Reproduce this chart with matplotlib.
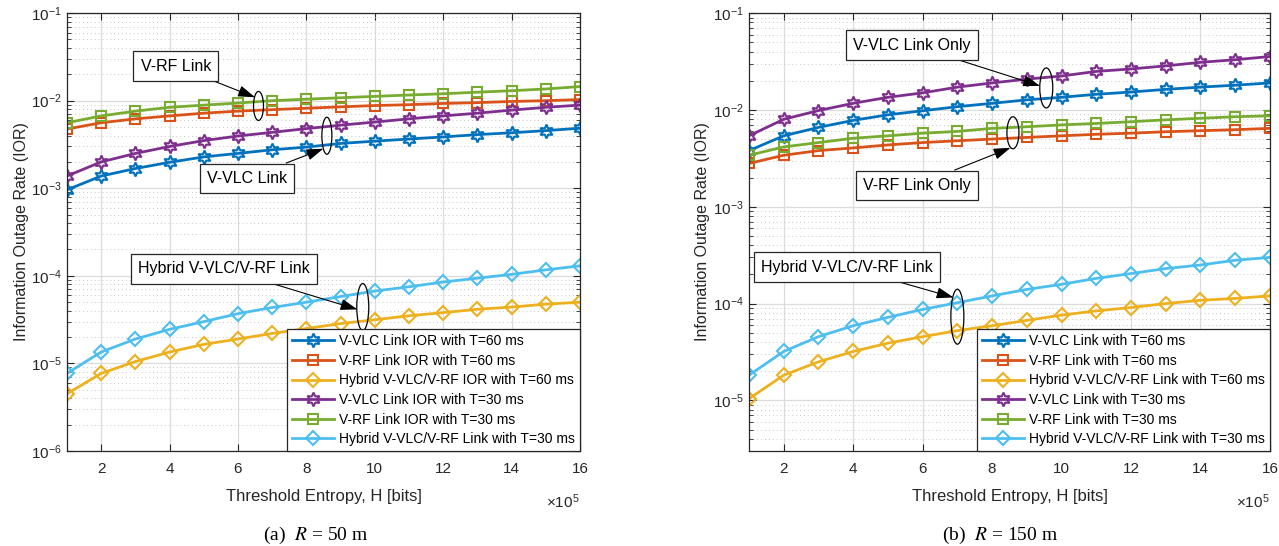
import numpy as np
import matplotlib
matplotlib.use("Agg")
import matplotlib.pyplot as plt
from matplotlib.patches import Ellipse
from matplotlib.transforms import ScaledTranslation

# DATA  (H in units of 1e5 bits)
entropy = [1, 2, 3, 4, 5, 6, 7, 8, 9, 10, 11, 12, 13, 14, 15, 16]

# R = 50 m
vlc60_50 = [9.6e-4, 1.38e-3, 1.68e-3, 1.98e-3, 2.28e-3, 2.5e-3, 2.75e-3, 2.95e-3,
            3.25e-3, 3.45e-3, 3.65e-3, 3.85e-3, 4.1e-3, 4.3e-3, 4.55e-3, 4.85e-3]
rf60_50  = [4.75e-3, 5.6e-3, 6.2e-3, 6.7e-3, 7.2e-3, 7.6e-3, 7.9e-3, 8.2e-3,
            8.5e-3, 8.8e-3, 9.0e-3, 9.3e-3, 9.5e-3, 9.8e-3, 1.0e-2, 1.03e-2]
hyb60_50 = [4.5e-6, 7.7e-6, 1.05e-5, 1.35e-5, 1.65e-5, 1.9e-5, 2.2e-5, 2.5e-5,
            2.85e-5, 3.15e-5, 3.5e-5, 3.8e-5, 4.15e-5, 4.4e-5, 4.75e-5, 5.0e-5]
vlc30_50 = [1.38e-3, 2.0e-3, 2.5e-3, 3.0e-3, 3.5e-3, 3.95e-3, 4.35e-3, 4.8e-3,
            5.25e-3, 5.7e-3, 6.2e-3, 6.7e-3, 7.2e-3, 7.8e-3, 8.4e-3, 8.9e-3]
rf30_50  = [5.6e-3, 6.7e-3, 7.6e-3, 8.4e-3, 8.9e-3, 9.4e-3, 1.0e-2, 1.04e-2,
            1.08e-2, 1.12e-2, 1.16e-2, 1.2e-2, 1.25e-2, 1.3e-2, 1.36e-2, 1.45e-2]
hyb30_50 = [7.7e-6, 1.35e-5, 1.9e-5, 2.45e-5, 3.0e-5, 3.7e-5, 4.35e-5, 5.0e-5,
            5.8e-5, 6.7e-5, 7.5e-5, 8.5e-5, 9.4e-5, 1.04e-4, 1.17e-4, 1.3e-4]

# R = 150 m
vlc60_150 = [3.8e-3, 5.4e-3, 6.6e-3, 7.8e-3, 8.9e-3, 9.8e-3, 1.08e-2, 1.17e-2,
             1.27e-2, 1.35e-2, 1.45e-2, 1.53e-2, 1.63e-2, 1.72e-2, 1.8e-2, 1.9e-2]
rf60_150  = [2.8e-3, 3.4e-3, 3.8e-3, 4.05e-3, 4.35e-3, 4.6e-3, 4.8e-3, 5.0e-3,
             5.2e-3, 5.4e-3, 5.6e-3, 5.75e-3, 5.95e-3, 6.1e-3, 6.25e-3, 6.45e-3]
hyb60_150 = [1.04e-5, 1.82e-5, 2.5e-5, 3.2e-5, 3.9e-5, 4.55e-5, 5.25e-5, 5.9e-5,
             6.7e-5, 7.6e-5, 8.4e-5, 9.1e-5, 1.0e-4, 1.08e-4, 1.13e-4, 1.2e-4]
vlc30_150 = [5.4e-3, 8.0e-3, 9.85e-3, 1.17e-2, 1.35e-2, 1.5e-2, 1.72e-2, 1.9e-2,
             2.08e-2, 2.24e-2, 2.5e-2, 2.65e-2, 2.85e-2, 3.1e-2, 3.3e-2, 3.56e-2]
rf30_150  = [3.4e-3, 4.15e-3, 4.6e-3, 5.1e-3, 5.4e-3, 5.75e-3, 6.0e-3, 6.45e-3,
             6.7e-3, 7.0e-3, 7.25e-3, 7.55e-3, 7.9e-3, 8.2e-3, 8.5e-3, 8.7e-3]
hyb30_150 = [1.82e-5, 3.2e-5, 4.55e-5, 5.9e-5, 7.2e-5, 8.7e-5, 1.02e-4, 1.2e-4,
             1.4e-4, 1.58e-4, 1.82e-4, 2.04e-4, 2.3e-4, 2.5e-4, 2.8e-4, 3.0e-4]

labels_50  = ["V-VLC Link IOR with T=60 ms", "V-RF Link IOR with T=60 ms",
              "Hybrid V-VLC/V-RF IOR with T=60 ms", "V-VLC Link IOR with T=30 ms",
              "V-RF Link IOR with T=30 ms", "Hybrid V-VLC/V-RF Link with T=30 ms"]
labels_150 = ["V-VLC Link with T=60 ms", "V-RF Link with T=60 ms",
              "Hybrid V-VLC/V-RF Link with T=60 ms", "V-VLC Link with T=30 ms",
              "V-RF Link with T=30 ms", "Hybrid V-VLC/V-RF Link with T=30 ms"]

# MATLAB default colour order
colors  = ["#0072BD", "#D95319", "#EDB120", "#7E2F8E", "#77AC30", "#4DBEEE"]
HEX     = (6, 1, 0)
markers = [HEX, "s", "D", HEX, "s", "D"]
msizes  = [10, 7, 7.5, 10, 7, 7.5]

plt.rcParams['font.family'] = ['Liberation Sans', 'DejaVu Sans']
plt.rcParams['mathtext.fontset'] = 'custom'
plt.rcParams['mathtext.rm'] = 'Liberation Sans'
plt.rcParams['mathtext.it'] = 'Liberation Sans:italic'

AX_COL = "#262626"


def draw_panel(ax, series, labels, ymin):
    for y, lab, c, m, ms in zip(series, labels, colors, markers, msizes):
        ax.semilogy(entropy, y, color=c, marker=m, ms=ms, mfc='none',
                    mew=1.5, lw=2, label=lab)
    ax.set_xlim(1, 16)
    ax.set_ylim(ymin, 1e-1)
    ax.set_xticks([2, 4, 6, 8, 10, 12, 14, 16])
    ax.grid(True, which='major', color='#dcdcdc', lw=0.9)
    ax.grid(True, which='minor', axis='y', color='#c8c8c8', ls=(0, (1, 3)), lw=0.7)
    ax.set_axisbelow(True)
    ax.tick_params(which='both', direction='in', top=True, right=True,
                   colors=AX_COL, labelsize=11)
    ax.tick_params(which='major', length=5)
    ax.tick_params(which='minor', length=3)
    ax.tick_params(axis='x', pad=8)
    for sp in ax.spines.values():
        sp.set_color(AX_COL)
        sp.set_linewidth(0.9)
    ax.set_xlabel("Threshold Entropy, H [bits]", fontsize=12, color=AX_COL, labelpad=9)
    ax.set_ylabel("Information Outage Rate (IOR)", fontsize=11.5, color=AX_COL, labelpad=2)
    ax.text(1.0, -0.095, r"$\times\mathregular{10^{5}}$", transform=ax.transAxes,
            ha='right', va='top', fontsize=11, color=AX_COL)
    leg = ax.legend(loc='lower right', fontsize=10, borderaxespad=0,
                    fancybox=False, framealpha=1, edgecolor=AX_COL,
                    handlelength=3.0, labelspacing=0.4, handletextpad=0.4,
                    borderpad=0.35)
    leg.get_frame().set_linewidth(0.9)


def ring(ax, xpos, y_a, y_b, w_px, h_px, text, text_xy, tip):
    # ellipse around two curves at xpos, box + arrow pointing at it
    la = np.interp(xpos, entropy, np.log10(y_a))
    lb = np.interp(xpos, entropy, np.log10(y_b))
    yc = 10 ** ((la + lb) / 2)
    fig = ax.figure
    el = Ellipse((0, 0), w_px / 100, h_px / 100, fill=False, ec='black', lw=0.9,
                 transform=fig.dpi_scale_trans + ScaledTranslation(xpos, yc, ax.transData),
                 zorder=5)
    ax.add_patch(el)
    ax.annotate(text, xy=tip, xycoords=el, xytext=text_xy, textcoords='axes fraction',
                ha='center', va='center', fontsize=11.5, zorder=6,
                bbox=dict(boxstyle='square,pad=0.45', fc='white', ec=AX_COL, lw=0.9),
                arrowprops=dict(arrowstyle='-|>,head_length=0.9,head_width=0.3',
                                color='black', lw=0.8, shrinkA=0, shrinkB=0))


fig = plt.figure(figsize=(12.79, 5.46), dpi=100)

# (a) R = 50 m
ax1 = fig.add_axes([0.0524, 0.174, 0.401, 0.802])
draw_panel(ax1, [vlc60_50, rf60_50, hyb60_50, vlc30_50, rf30_50, hyb30_50], labels_50, 1e-6)
ring(ax1, 6.6, rf60_50, rf30_50, 10, 29, "V-RF Link", (0.212, 0.879), (0.15, 0.8))
ring(ax1, 8.6, vlc60_50, vlc30_50, 10, 37, "V-VLC Link", (0.351, 0.623), (0.15, 0.15))
ring(ax1, 9.65, hyb60_50, hyb30_50, 12, 47, "Hybrid V-VLC/V-RF Link", (0.306, 0.416), (0.05, 0.45))

# (b) R = 150 m
ax2 = fig.add_axes([0.5856, 0.174, 0.4073, 0.802])
draw_panel(ax2, [vlc60_150, rf60_150, hyb60_150, vlc30_150, rf30_150, hyb30_150], labels_150, 3e-6)
ring(ax2, 9.56, vlc60_150, vlc30_150, 13, 40, "V-VLC Link Only", (0.313, 0.927), (0.02, 0.55))
ring(ax2, 8.6, rf60_150, rf30_150, 12, 32, "V-RF Link Only", (0.322, 0.607), (0.3, 0.03))
ring(ax2, 7.0, hyb60_150, hyb30_150, 13, 55, "Hybrid V-VLC/V-RF Link", (0.188, 0.42), (0.2, 0.85))

# captions
for xc, tag, r in [(0.247, "(a)", "50"), (0.782, "(b)", "150")]:
    fig.text(xc, 0.02, tag + r"  $\it{R}$ = " + r + " m", ha='center', va='center',
             fontsize=14, family='Liberation Serif',
             math_fontfamily='stix')

fig.savefig("out.png", dpi=100)
